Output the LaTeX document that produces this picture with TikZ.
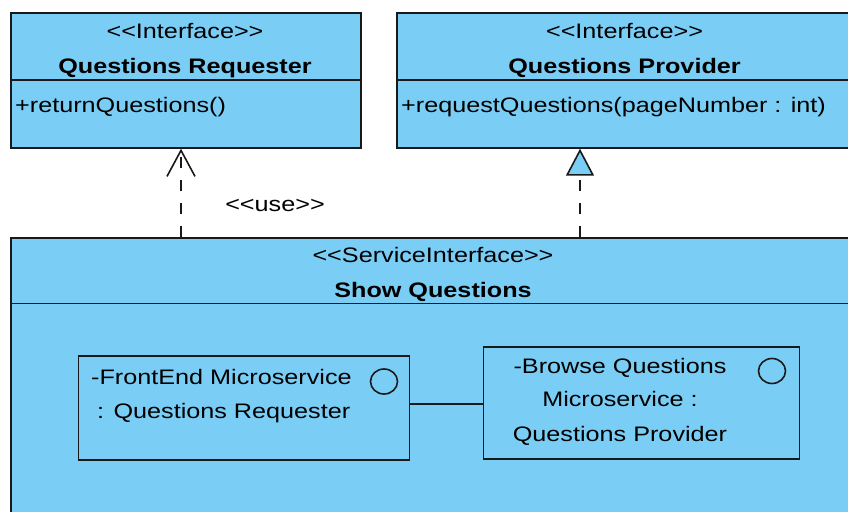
\documentclass[tikz,border=0pt]{standalone}
\usepackage{fontspec}
\setmainfont{Liberation Sans}[FakeStretch=1.2]
\usetikzlibrary{arrows.meta}
\definecolor{qblue}{RGB}{122,206,245}
\definecolor{qline}{RGB}{25,25,25}
% stereotype brackets, kept apart so they are not turned into guillemets
\newcommand{\stereo}[1]{<\kern0pt<#1>\kern0pt>}
\begin{document}
\begin{tikzpicture}[x=1pt,y=-1pt,
  classbox/.style={draw=qline, fill=qblue, line width=1.7pt, rectangle,
    inner sep=0pt, anchor=north west},
  partbox/.style={classbox},
  txt/.style={font=\fontsize{21}{25}\selectfont, inner sep=0pt, text=black},
  boldtxt/.style={font=\fontsize{21}{25}\selectfont\bfseries, inner sep=0pt, text=black},
  divider/.style={draw=qline, line width=1.7pt},
  dep/.style={draw=qline, line width=1.6pt, dash pattern=on 11pt off 12pt},
  usetip/.style={-{Straight Barb[length=26pt, width=28pt, line width=1.6pt]}},
  realtip/.style={-{Triangle[length=27pt, width=28pt, fill=qblue, line width=1.6pt]}},
  link/.style={draw=qline, line width=1.7pt}]
\clip (0,0) rectangle (848,511);
\fill[white] (0,0) rectangle (848,511);

% interface: Questions Requester
\node[classbox, minimum width=350pt, minimum height=135pt] (req) at (10,12) {};
\draw[divider] (10,80) -- (360,80);
\node[txt, anchor=base] (reqSt) at (185,39) {\stereo{Interface}};
\node[boldtxt, anchor=base] (reqName) at (185,74) {Questions Requester};
\node[txt, anchor=base west] (reqOp) at (15,112) {+returnQuestions()};

% interface: Questions Provider
\node[classbox, minimum width=457pt, minimum height=135pt] (prov) at (396,12) {};
\draw[divider] (396,80) -- (853,80);
\node[txt, anchor=base] (provSt) at (624.5,39) {\stereo{Interface}};
\node[boldtxt, anchor=base] (provName) at (624.5,74) {Questions Provider};
\node[txt, anchor=base west] (provOp) at (401,112) {+requestQuestions(pageNumber : int)};

% service interface: Show Questions
\node[classbox, minimum width=846pt, minimum height=300pt] (svc) at (10,237) {};
\draw[divider] (10,303.5) -- (856,303.5);
\node[txt, anchor=base] (svcSt) at (433,262) {\stereo{ServiceInterface}};
\node[boldtxt, anchor=base] (svcName) at (433,297) {Show Questions};

% parts
\node[partbox, minimum width=331pt, minimum height=104pt] (front) at (77.5,355) {};
\node[txt, anchor=base west] (frontA) at (91,384) {-FrontEnd Microservice};
\node[txt, anchor=base west] (frontB) at (97,418) {: Questions Requester};
\draw[qline, line width=1.6pt] (384,381.5) ellipse [x radius=13.5pt, y radius=12.5pt];

\node[partbox, minimum width=316pt, minimum height=112pt] (browse) at (482.5,346) {};
\node[txt, anchor=base] (browseA) at (620,373) {-Browse Questions};
\node[txt, anchor=base] (browseB) at (620,406) {Microservice :};
\node[txt, anchor=base] (browseC) at (620,441) {Questions Provider};
\draw[qline, line width=1.6pt] (772,371) ellipse [x radius=13.5pt, y radius=12.5pt];

% connectors
\coordinate (linkY) at (0,404);
\draw[link] (front.east |- linkY) -- (browse.west |- linkY);

\coordinate (useX) at (181,0);
\draw[dep, usetip] (svc.north -| useX) -- (req.south -| useX);
\node[txt, anchor=base] (useLbl) at (275,211) {\stereo{use}};

\coordinate (realX) at (580,0);
\draw[dep, realtip] (svc.north -| realX) -- (prov.south -| realX);
\end{tikzpicture}
\end{document}
